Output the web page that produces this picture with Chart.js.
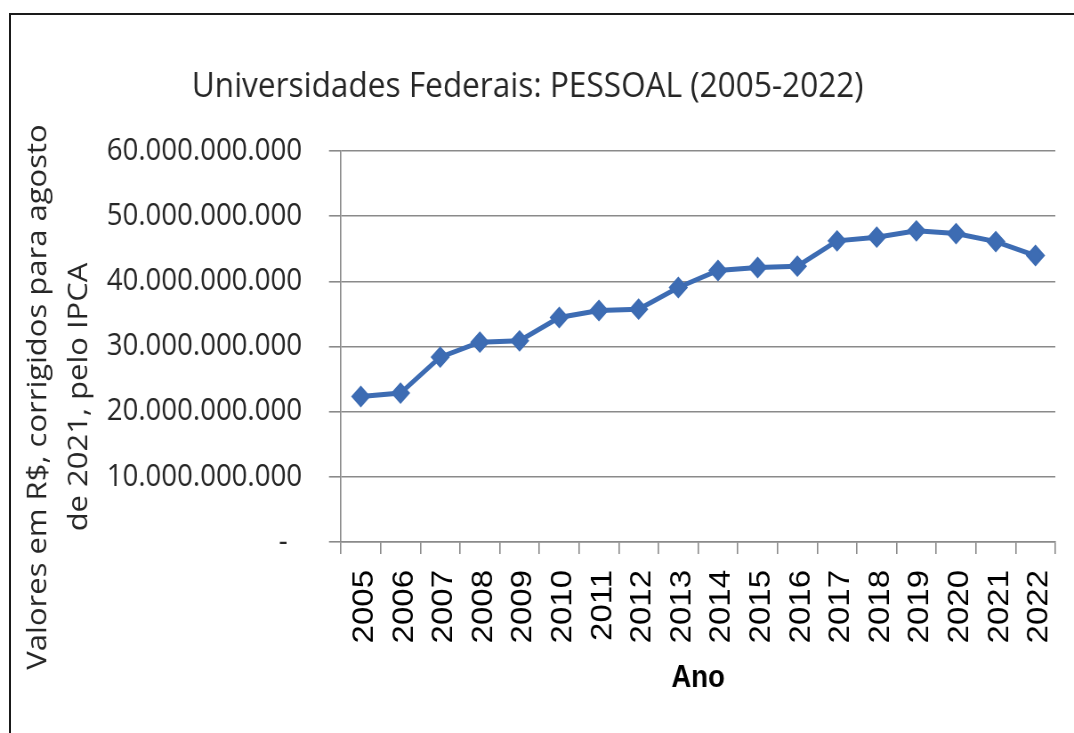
<!DOCTYPE html>
<html>
<head>
<meta charset="utf-8">
<script src="https://cdn.jsdelivr.net/npm/chart.js@4/dist/chart.umd.min.js"></script>
<style>
  html, body { margin: 0; padding: 0; background: #fff; overflow: hidden; }
  #frame { position: absolute; left: 9px; top: 13px; width: 1100px; height: 800px;
           border-top: 2px solid #1a1a1a; border-left: 2px solid #1a1a1a; }
  /* the source picture is squeezed horizontally, so draw wider and squeeze */
  #wrap { position: absolute; left: 0; top: 0; width: 1207px; height: 733px;
          transform: scaleX(0.8898); transform-origin: 0 0; }
</style>
</head>
<body>
<div id="frame"></div>
<div id="wrap"><canvas id="pessoalChart" width="1207" height="733"></canvas></div>
<script>
const years = ['2005', '2006', '2007', '2008', '2009', '2010', '2011', '2012', '2013',
  '2014', '2015', '2016', '2017', '2018', '2019', '2020', '2021', '2022'];

// R$ corrigidos (agosto 2021, IPCA)
const pessoal = [22330000000, 22850000000, 28370000000, 30670000000, 30870000000,
  34450000000, 35520000000, 35730000000, 39050000000, 41660000000, 42120000000,
  42330000000, 46210000000, 46780000000, 47750000000, 47330000000, 46100000000,
  43960000000];

const yTitleLines = ['Valores em R$, corrigidos para agosto', 'de 2021, pelo IPCA'];

const gridColor = '#8a8a8a';

function fmtBR(v) {
  if (v === 0) return '-  ';
  return String(Math.round(v)).replace(/\B(?=(\d{3})+(?!\d))/g, '.');
}

// y axis title sits lower than the plot centre in the original
const yTitlePlugin = {
  id: 'yTitle',
  afterDraw(chart) {
    const ctx = chart.ctx;
    const xs = [52, 98];
    ctx.save();
    ctx.font = '31px "Open Sans"';
    ctx.fillStyle = '#262626';
    ctx.textAlign = 'center';
    ctx.textBaseline = 'alphabetic';
    yTitleLines.forEach((t, i) => {
      ctx.save();
      ctx.translate(xs[i], 397);
      ctx.rotate(-Math.PI / 2);
      ctx.fillText(t, 0, 0);
      ctx.restore();
    });
    ctx.restore();
  }
};

const ctx = document.getElementById('pessoalChart').getContext('2d');

new Chart(ctx, {
  type: 'line',
  data: {
    labels: years,
    datasets: [{
      label: 'PESSOAL',
      data: pessoal,
      borderColor: '#3d6cb3',
      backgroundColor: '#3d6cb3',
      borderWidth: 5,
      pointStyle: 'rectRot',
      pointRadius: 9.5,
      pointBorderWidth: 2,
      pointBackgroundColor: '#3d6cb3',
      pointBorderColor: '#3d6cb3',
      tension: 0
    }]
  },
  options: {
    responsive: false,
    animation: false,
    layout: { padding: { left: 0, right: 21, top: 0, bottom: 0 } },
    plugins: {
      legend: { display: false },
      tooltip: { enabled: false },
      title: {
        display: true,
        text: 'Universidades Federais: PESSOAL (2005-2022)',
        color: '#262626',
        font: { family: '"Open Sans"', size: 35.5, weight: 'normal', lineHeight: 1.2 },
        padding: { top: 66, bottom: 42.4 }
      }
    },
    scales: {
      x: {
        offset: true,
        grid: {
          display: true,
          offset: true,
          drawOnChartArea: false,
          drawTicks: true,
          tickLength: 12,
          color: gridColor,
          lineWidth: 1.6
        },
        border: { display: true, color: gridColor, width: 1.6 },
        ticks: {
          color: '#000',
          font: { family: '"Liberation Sans"', size: 33 },
          minRotation: 90,
          maxRotation: 90,
          autoSkip: false,
          padding: 16,
          labelOffset: 4.5
        },
        title: {
          display: true,
          text: 'Ano',
          color: '#000',
          font: { family: '"Liberation Sans"', size: 31, weight: 'bold', lineHeight: 1.2 },
          padding: { top: 0, bottom: 36.4 }
        },
        afterFit(scale) {
          scale.height = 191;
          scale.paddingLeft = 0;
          scale.paddingRight = 0;
        }
      },
      y: {
        min: 0,
        max: 60000000000,
        grid: {
          color: gridColor,
          lineWidth: 1.6,
          drawTicks: true,
          tickLength: 13.5
        },
        border: { display: true, color: gridColor, width: 1.6 },
        ticks: {
          stepSize: 10000000000,
          color: '#262626',
          font: { family: '"Open Sans"', size: 31 },
          padding: 30.3,
          callback: (v) => fmtBR(v)
        },
        afterFit(scale) {
          scale.width = 383.2;
          scale.paddingTop = 0;
          scale.paddingBottom = 0;
        }
      }
    }
  },
  plugins: [yTitlePlugin]
});
</script>
</body>
</html>
